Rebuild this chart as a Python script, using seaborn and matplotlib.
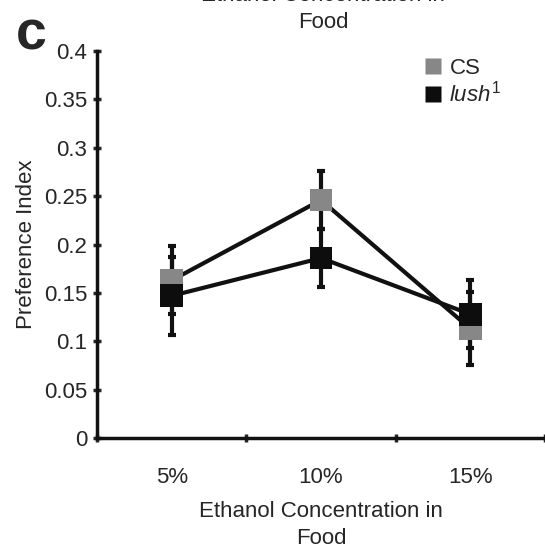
import numpy as np
import pandas as pd
import matplotlib.pyplot as plt
from matplotlib.lines import Line2D
import seaborn as sns

# values
concentrations = ['5%', '10%', '15%']
cs_mean = [0.163, 0.246, 0.113]
cs_err = [0.035, 0.030, 0.038]
lush_mean = [0.147, 0.186, 0.128]
lush_err = [0.040, 0.030, 0.035]
strains = ['CS', 'lush1']
strain_colors = {'CS': '#878787', 'lush1': '#0d0d0d'}

sns.set_style('ticks')
plt.rcParams['font.family'] = ['Liberation Sans', 'DejaVu Sans']
plt.rcParams['mathtext.fontset'] = 'custom'
plt.rcParams['mathtext.rm'] = 'Liberation Sans'
plt.rcParams['mathtext.it'] = 'Liberation Sans:italic'

df = pd.DataFrame({
    'Concentration': concentrations * 2,
    'Preference Index': cs_mean + lush_mean,
    'Strain': ['CS'] * 3 + ['lush1'] * 3,
})

fig = plt.figure(figsize=(5.45, 5.52), dpi=100)
ax = fig.add_axes([0.178, 0.2065, 0.822, 0.701])

# error bars first so the squares sit on top
pos = np.arange(len(concentrations))
for m, e in [(cs_mean, cs_err), (lush_mean, lush_err)]:
    ax.errorbar(pos, m, yerr=e, fmt='none', ecolor='#111111', elinewidth=3,
                capsize=3, capthick=3, zorder=1)

sns.pointplot(data=df, x='Concentration', y='Preference Index', hue='Strain',
              hue_order=strains, order=concentrations, palette=['#111111', '#111111'],
              markers='s', linestyles='-', errorbar=None, legend=False,
              markersize=0, linewidth=3, ax=ax)
for lst in ax.lines:
    lst.set_zorder(2)

# coloured square markers on top (lush drawn last)
for s, vals in zip(strains, [cs_mean, lush_mean]):
    ax.scatter(pos, vals, marker='s', s=270, color=strain_colors[s],
               edgecolor='none', zorder=3 + strains.index(s))

ax.set_xlim(-0.5, 2.5)
ax.set_ylim(0, 0.4)
ax.set_yticks([0, 0.05, 0.1, 0.15, 0.2, 0.25, 0.3, 0.35, 0.4])
ax.set_yticklabels(['0', '0.05', '0.1', '0.15', '0.2', '0.25', '0.3', '0.35', '0.4'])
ax.set_xticks([-0.5, 0.5, 1.5, 2.5], minor=False)
ax.set_xticklabels([])
ax.set_xticks(pos, minor=True)
ax.set_xticklabels(concentrations, minor=True)
ax.tick_params(axis='x', which='minor', length=0, pad=21, labelsize=16)
ax.tick_params(axis='x', which='major', length=6, width=2.5, direction='inout')
ax.tick_params(axis='y', length=6, width=2.5, direction='inout', labelsize=16, pad=4)
sns.despine(ax=ax)
for sp in ['left', 'bottom']:
    ax.spines[sp].set_linewidth(2.5)
    ax.spines[sp].set_color('#111111')

ax.set_ylabel('Preference Index', fontsize=16, labelpad=5)
ax.set_xlabel('Ethanol Concentration in\nFood', fontsize=16, labelpad=9, linespacing=1.4)

handles = [Line2D([], [], marker='s', linestyle='none', markersize=12,
                  markerfacecolor=strain_colors[s], markeredgecolor='none') for s in strains]
ax.legend(handles, ['CS', r'$\it{lush}^{1}$'], loc='upper left',
          bbox_to_anchor=(0.68, 1.035), frameon=False, fontsize=16,
          handletextpad=0.25, labelspacing=0.1, handlelength=1.0)

fig.text(0.058, 0.935, 'c', fontsize=40, fontweight='bold', ha='center', va='center')
fig.text(0.593, 0.94, 'Ethanol Concentration in\nFood', fontsize=16,
         ha='center', va='bottom', linespacing=1.4)

fig.savefig('out.png', dpi=100)
